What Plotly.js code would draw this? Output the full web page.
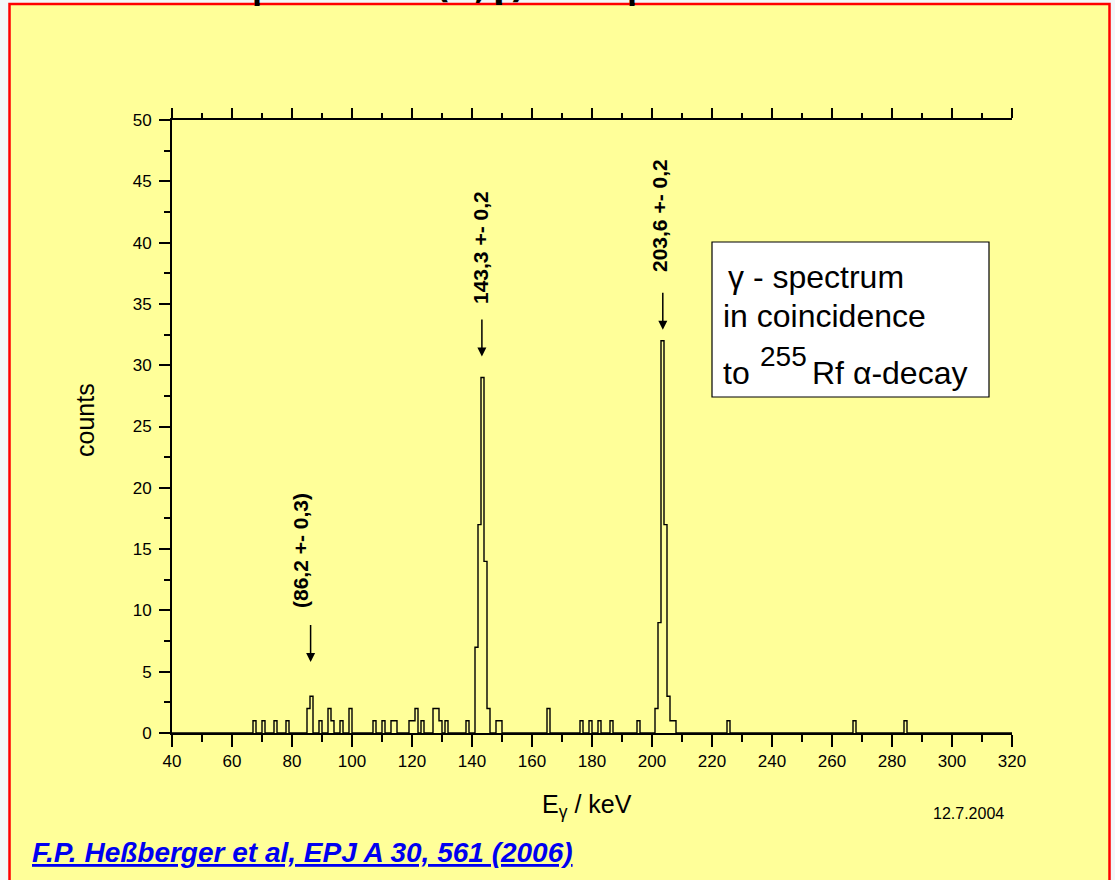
<!DOCTYPE html>
<html>
<head>
<meta charset="utf-8">
<script src="https://cdn.plot.ly/plotly-3.0.1.min.js"></script>
<style>html,body{margin:0;padding:0;background:#F3F6F9;}#chart{width:1115px;height:880px;}</style>
</head>
<body>
<div id="chart"></div>
<script>
// ---- data (histogram, 1 keV bins: lower bin edge -> counts) ----
const binLow    = [67,70,74,78,85,86,89,92,93,96,99,107,110,113,114,119,120,121,123,127,128,129,131,138,141,142,143,144,145,148,149,165,176,179,182,186,195,201,202,203,204,205,206,207,225,267,284];
const binCounts = [1,1,1,1,2,3,1,2,1,1,2,1,1,1,1,1,1,2,1,2,2,1,1,1,7,17,29,14,2,1,1,2,1,1,1,1,1,2,9,32,17,3,1,1,1,1,1];
const peakEnergies = [86.2, 143.3, 203.6];
const peakLabels   = ['(86,2 +- 0,3)', '143,3 +- 0,2', '203,6 +- 0,2'];
const xTickVals = [40,60,80,100,120,140,160,180,200,220,240,260,280,300,320];
const yTickVals = [0,5,10,15,20,25,30,35,40,45,50];

// build step outline from the bins
const xMin = 40, xMax = 320;
const countMap = {};
binLow.forEach((b,i)=>{countMap[b]=binCounts[i];});
const stepX = [], stepY = [];
for (let e = xMin; e <= xMax; e++) { stepX.push(e); stepY.push(e < xMax ? (countMap[e]||0) : 0); }

// pixel helpers for layout decorations
const L=172, R=1012, T=120, B=733;
const px = x => (x-L)/(R-L);
const py = y => (B-y)/(B-T);
const FONT = 'Liberation Sans, Arial, sans-serif';

const traces = [
  {x: stepX, y: stepY, type:'scatter', mode:'lines', line:{shape:'hv', color:'#000', width:1.4}, hoverinfo:'skip'},
  {x: stepX, y: stepY, type:'scatter', mode:'lines', xaxis:'x2', line:{shape:'hv', color:'rgba(0,0,0,0)', width:0}, hoverinfo:'skip'}
];

// peak annotations: arrows + rotated labels
const tipY = [5.8, 30.7, 32.9];
const labelCenterPx = [[300,551],[480,248],[659,216]];
const annotations = [];
peakEnergies.forEach((e,i)=>{
  annotations.push({x:e, y:tipY[i], xref:'x', yref:'y', text:' ', showarrow:true, arrowhead:2, arrowsize:1.2, arrowwidth:1.5, arrowcolor:'#000', ax:0, ay:-40, standoff:0, font:{size:2}});
  annotations.push({x:px(labelCenterPx[i][0]), y:py(labelCenterPx[i][1]), xref:'paper', yref:'paper', text:'<b>'+peakLabels[i]+'</b>', showarrow:false, textangle:-90, xanchor:'center', yanchor:'middle', font:{family:FONT, size:21, color:'#000'}});
});
// legend box text
const LF = 32;
annotations.push({x:px(726), y:py(277), xref:'paper', yref:'paper', text:'γ - spectrum', showarrow:false, xanchor:'left', yanchor:'middle', font:{family:FONT, size:LF, color:'#000'}});
annotations.push({x:px(721), y:py(316), xref:'paper', yref:'paper', text:'in coincidence', showarrow:false, xanchor:'left', yanchor:'middle', font:{family:FONT, size:LF, color:'#000'}});
annotations.push({x:px(721), y:py(373), xref:'paper', yref:'paper', text:'to', showarrow:false, xanchor:'left', yanchor:'middle', font:{family:FONT, size:LF, color:'#000'}});
annotations.push({x:px(758), y:py(356), xref:'paper', yref:'paper', text:'255', showarrow:false, xanchor:'left', yanchor:'middle', font:{family:FONT, size:28, color:'#000'}});
annotations.push({x:px(810), y:py(373), xref:'paper', yref:'paper', text:'Rf α-decay', showarrow:false, xanchor:'left', yanchor:'middle', font:{family:FONT, size:LF, color:'#000'}});
// axis titles & misc text
annotations.push({x:px(85), y:py(420), xref:'paper', yref:'paper', text:'counts', showarrow:false, textangle:-90, xanchor:'center', yanchor:'middle', font:{family:FONT, size:25, color:'#000'}});
annotations.push({x:px(587), y:py(806), xref:'paper', yref:'paper', text:'E<sub>γ</sub> / keV', showarrow:false, xanchor:'center', yanchor:'middle', font:{family:FONT, size:25, color:'#000'}});
annotations.push({x:px(968), y:py(813), xref:'paper', yref:'paper', text:'12.7.2004', showarrow:false, xanchor:'center', yanchor:'middle', font:{family:FONT, size:16, color:'#000'}});
annotations.push({x:px(30), y:py(852), xref:'paper', yref:'paper', text:'<u>F.P. Heßberger et al, EPJ A 30, 561 (2006)</u>', showarrow:false, xanchor:'left', yanchor:'middle', font:{family:'Liberation Sans Narrow, Arial Narrow, sans-serif', size:28, color:'#0000F0', weight:'bold', style:'italic'}});
// cut-off heading fragments at the very top
annotations.push({x:px(263), y:py(8), xref:'paper', yref:'paper', text:'p', showarrow:false, xanchor:'center', yanchor:'bottom', font:{family:FONT, size:36, color:'#000', weight:'bold'}});
annotations.push({x:px(480), y:py(8), xref:'paper', yref:'paper', text:'(α,γ)', showarrow:false, xanchor:'center', yanchor:'bottom', font:{family:'DejaVu Sans, sans-serif', size:34, color:'#000', weight:'bold'}});
annotations.push({x:px(638), y:py(8), xref:'paper', yref:'paper', text:'p', showarrow:false, xanchor:'center', yanchor:'bottom', font:{family:FONT, size:36, color:'#000', weight:'bold'}});

const axisFont = {family:FONT, size:17, color:'#000'};
const layout = {
  width:1115, height:880,
  margin:{l:L, r:1115-R, t:T, b:880-B, pad:0},
  paper_bgcolor:'#F3F6F9', plot_bgcolor:'rgba(0,0,0,0)',
  showlegend:false,
  xaxis:{range:[xMin,xMax], tickvals:xTickVals, ticks:'outside', ticklen:12, tickwidth:2, tickcolor:'#000',
         minor:{dtick:10, tick0:40, ticks:'outside', ticklen:7, tickwidth:2, tickcolor:'#000'},
         showline:true, linewidth:2, linecolor:'#000', showgrid:false, zeroline:false, tickfont:axisFont, fixedrange:true},
  xaxis2:{range:[xMin,xMax], overlaying:'x', side:'top', tickvals:xTickVals, ticks:'outside', ticklen:10, tickwidth:2, tickcolor:'#000',
         minor:{dtick:10, tick0:40, ticks:'outside', ticklen:5, tickwidth:2, tickcolor:'#000'},
         showticklabels:false, showline:true, linewidth:2, linecolor:'#000', showgrid:false, zeroline:false, fixedrange:true},
  yaxis:{range:[0,50], tickvals:yTickVals, ticks:'outside', ticklen:11, tickwidth:2, tickcolor:'#000', ticklabelstandoff:4,
         minor:{dtick:2.5, tick0:0, ticks:'outside', ticklen:6, tickwidth:2, tickcolor:'#000'},
         showline:true, linewidth:2, linecolor:'#000', showgrid:false, zeroline:false, tickfont:axisFont, fixedrange:true},
  shapes:[
    {type:'rect', xref:'paper', yref:'paper', x0:px(9.5), x1:px(1109.5), y0:py(920), y1:py(4), fillcolor:'#FFFF99', line:{color:'#FF0000', width:2.5}, layer:'below'},
    {type:'rect', xref:'paper', yref:'paper', x0:px(712), x1:px(989), y0:py(397), y1:py(242), fillcolor:'#FFFFFF', line:{color:'#000', width:1.2}, layer:'above'}
  ],
  annotations:annotations
};
Plotly.newPlot('chart', traces, layout, {staticPlot:true, displayModeBar:false});
</script>
</body>
</html>
